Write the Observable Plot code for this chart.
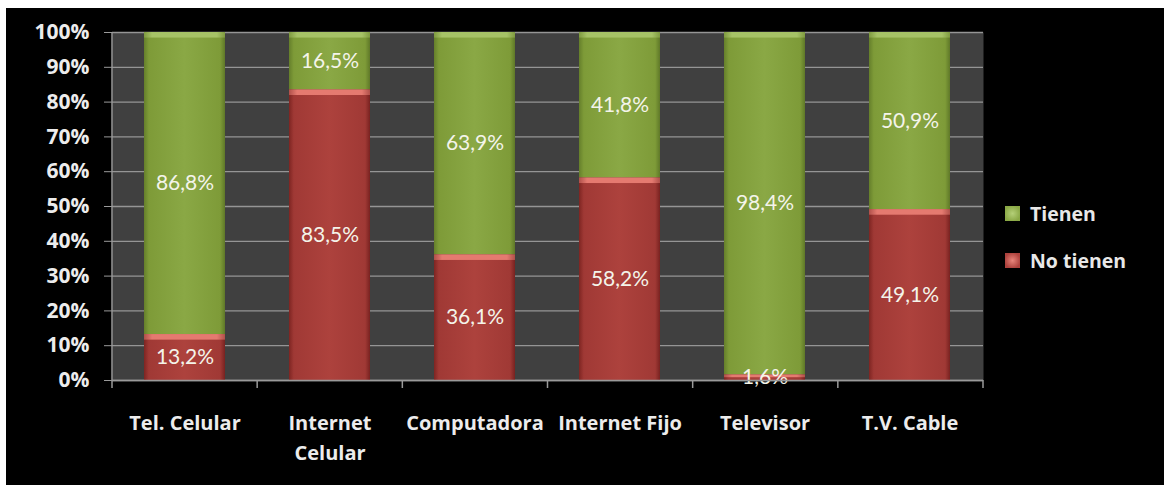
<!DOCTYPE html>
<html>
<head>
<meta charset="utf-8">
<script src="https://cdn.jsdelivr.net/npm/d3@7"></script>
<script src="https://cdn.jsdelivr.net/npm/@observablehq/plot@0.6"></script>
<style>
  html, body { margin: 0; padding: 0; background: #ffffff; }
  #wrap { position: absolute; left: 6px; top: 8px; width: 1158px; height: 477px; background: #000000; overflow: hidden; }
  #chart { position: absolute; left: 0; top: 0; }
  #legend { position: absolute; left: 999px; top: 193px; font-family: "Open Sans", sans-serif; font-weight: bold; font-size: 19.5px; color: #e8e8e8; }
  .li { display: flex; align-items: center; height: 24px; margin-bottom: 23px; }
  .sw { width: 15px; height: 15px; margin-right: 10px; }
</style>
</head>
<body>
<div id="wrap">
  <div id="chart"></div>
  <div id="legend"></div>
</div>
<script>
const categories = ["Tel. Celular", "Internet Celular", "Computadora", "Internet Fijo", "Televisor", "T.V. Cable"];
const xLabels = ["Tel. Celular", "Internet\nCelular", "Computadora", "Internet Fijo", "Televisor", "T.V. Cable"];
const tienen = [86.8, 16.5, 63.9, 41.8, 98.4, 50.9];
const noTienen = [13.2, 83.5, 36.1, 58.2, 1.6, 49.1];
const seriesNames = ["Tienen", "No tienen"];
const yTicks = [0, 10, 20, 30, 40, 50, 60, 70, 80, 90, 100];

const fmt = v => v.toFixed(1).replace(".", ",") + "%";

// Build stacked segments: No tienen at bottom, Tienen on top
const segs = [];
categories.forEach((c, i) => {
  segs.push({cat: c, series: "No tienen", v: noTienen[i], y1: 0, y2: noTienen[i]});
  segs.push({cat: c, series: "Tienen", v: tienen[i], y1: noTienen[i], y2: noTienen[i] + tienen[i]});
});
const bevel = 1.6;
const fills = {"Tienen": "url(#gGreen)", "No tienen": "url(#gRed)"};
const topFills = {"Tienen": "url(#gGreenTop)", "No tienen": "url(#gRedTop)"};

const W = 1158, H = 477;
const chart = Plot.plot({
  width: W,
  height: H,
  marginLeft: 106,
  marginRight: 181,
  marginTop: 24,
  marginBottom: 105,
  style: {background: "transparent", color: "#e8e8e8"},
  x: {domain: categories, paddingInner: 0.44, paddingOuter: 0.22, label: null},
  y: {domain: [0, 100], label: null},
  marks: [
    Plot.frame({fill: "#404040", stroke: null}),
    Plot.gridY(yTicks, {stroke: "#959595", strokeOpacity: 1, strokeWidth: 1.3}),
    Plot.barY(segs, {x: "cat", y1: "y1", y2: "y2", fill: d => fills[d.series]}),
    Plot.barY(segs, {x: "cat", y1: d => d.y2 - Math.min(bevel, d.v / 2), y2: "y2", fill: d => topFills[d.series]}),
    Plot.text(segs, {x: "cat", y: d => (d.y1 + d.y2) / 2, text: d => fmt(d.v), fill: "#f4f4ea", fontSize: 21, fontFamily: "Lato, sans-serif"}),
    Plot.ruleY([0], {stroke: "#9a9a9a", strokeWidth: 1.5}),
    Plot.axisY({ticks: yTicks, tickFormat: d => d + "%", tickSize: 8, tickPadding: 15, fontSize: 21, fontWeight: "bold", fontFamily: "'Open Sans', sans-serif", stroke: "#9a9a9a", fill: "#ececec"}),
    Plot.axisX({tickSize: 0, tickPadding: 28, tickFormat: (d) => xLabels[categories.indexOf(d)], lineHeight: 1.5, fontSize: 20, fontWeight: "bold", fontFamily: "'Open Sans', sans-serif", fill: "#ececec"})
  ]
});

// gradients
const svg = d3.select(chart);
const defs = svg.insert("defs", ":first-child");
function grad(id, stops) {
  const g = defs.append("linearGradient").attr("id", id).attr("x1", "0").attr("x2", "1").attr("y1", "0").attr("y2", "0");
  stops.forEach(([o, c]) => g.append("stop").attr("offset", o).attr("stop-color", c));
}
grad("gGreen", [["0", "#657f2b"], ["0.06", "#7e9b38"], ["0.5", "#8aa845"], ["0.94", "#7e9b38"], ["1", "#5f7828"]]);
grad("gRed", [["0", "#7e2522"], ["0.06", "#a03935"], ["0.5", "#ad423d"], ["0.94", "#a03935"], ["1", "#782220"]]);
grad("gGreenTop", [["0", "#7f9a40"], ["0.1", "#a6c266"], ["0.9", "#a6c266"], ["1", "#7f9a40"]]);
grad("gRedTop", [["0", "#b0504a"], ["0.1", "#e57a70"], ["0.9", "#e57a70"], ["1", "#b0504a"]]);

// band boundary ticks and left axis line, from the plot's own scales
const xs = chart.scale("x"), ys = chart.scale("y");
const [r0, r1] = xs.range;
const step = (r1 - r0) / categories.length;
const yBottom = ys.range[0], yTop = ys.range[1];
const g = svg.append("g").attr("stroke", "#9a9a9a").attr("stroke-width", 1.5);
for (let i = 0; i <= categories.length; i++) {
  const x = r0 + i * step;
  g.append("line").attr("x1", x).attr("x2", x).attr("y1", yBottom).attr("y2", yBottom + 8);
}
g.append("line").attr("x1", r0).attr("x2", r0).attr("y1", yTop).attr("y2", yBottom);

document.getElementById("chart").appendChild(chart);

// legend
const legendColors = {"Tienen": ["#8aa845", "#b4cf78"], "No tienen": ["#ad423d", "#e8857b"]};
const leg = document.getElementById("legend");
seriesNames.forEach(s => {
  const row = document.createElement("div");
  row.className = "li";
  const sw = document.createElement("div");
  sw.className = "sw";
  sw.style.background = `radial-gradient(circle, ${legendColors[s][1]} 0%, ${legendColors[s][0]} 75%)`;
  const t = document.createElement("span");
  t.textContent = s;
  row.appendChild(sw);
  row.appendChild(t);
  leg.appendChild(row);
});
</script>
</body>
</html>
